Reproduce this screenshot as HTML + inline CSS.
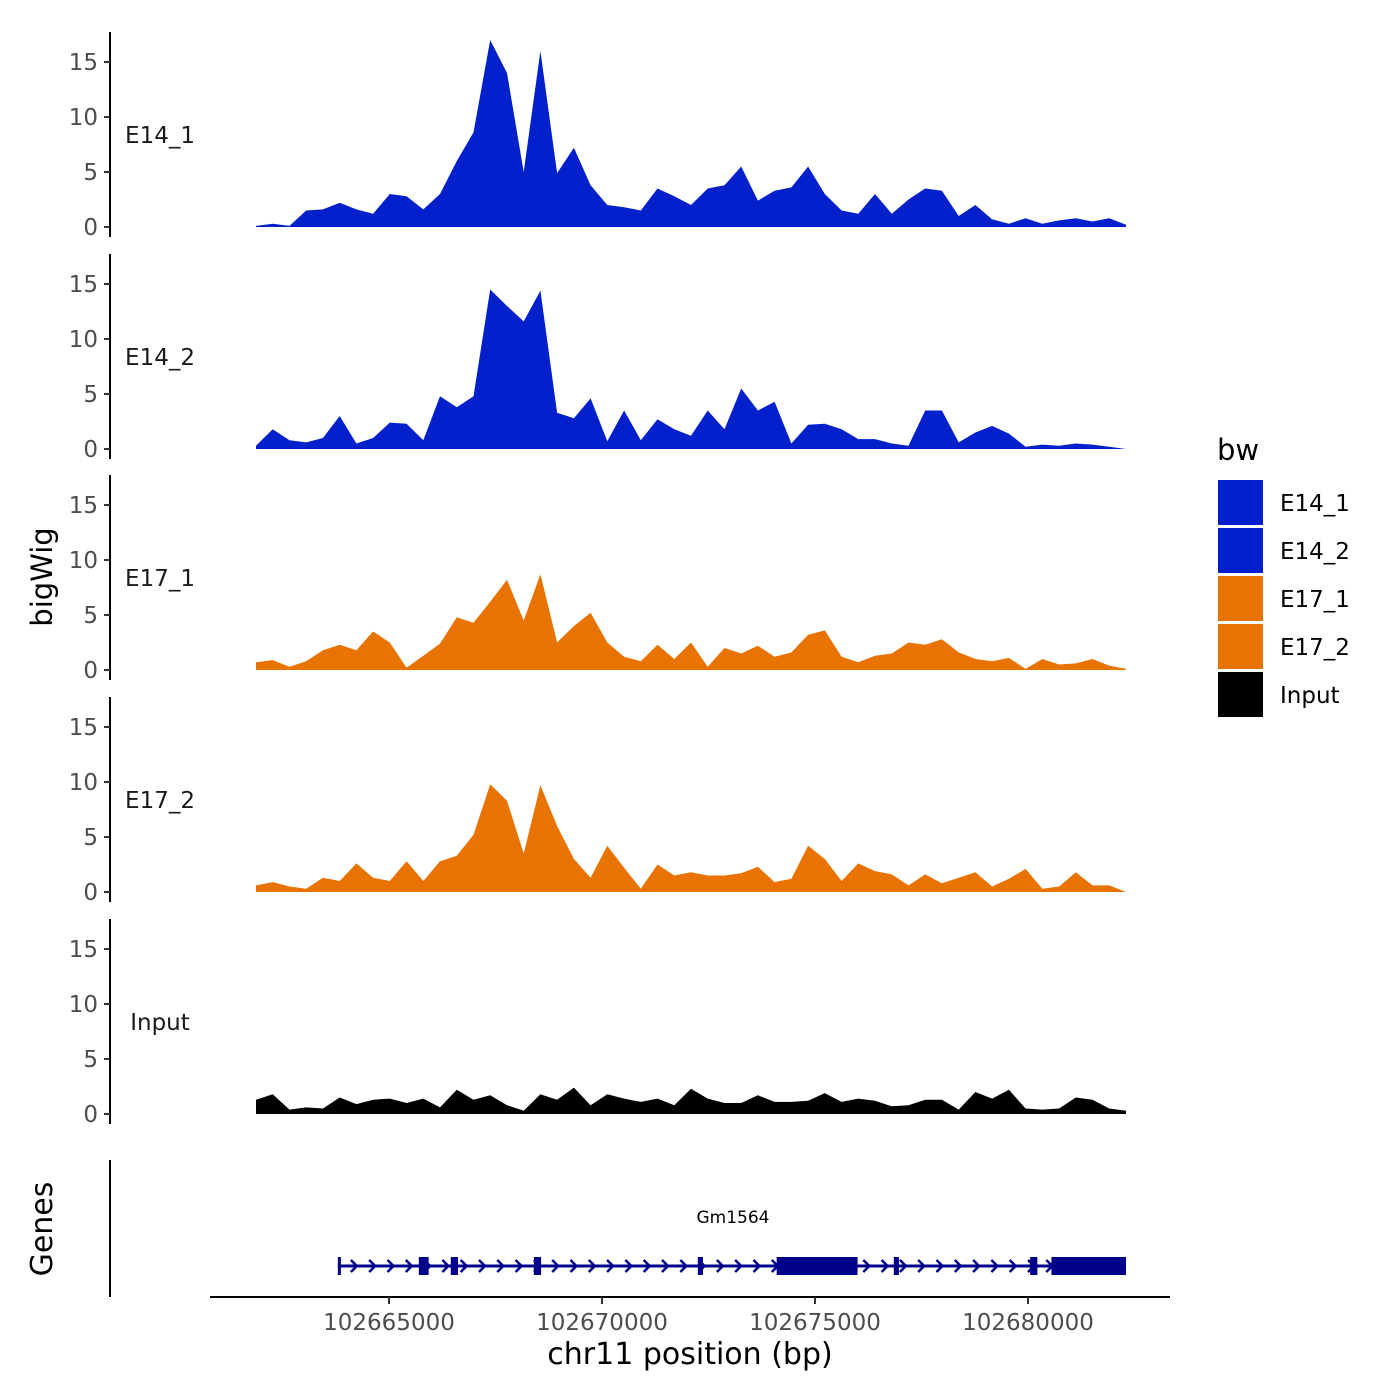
<!DOCTYPE html>
<html><head><meta charset="utf-8"><style>
html,body{margin:0;padding:0;background:#fff;}
svg{display:block;font-family:"DejaVu Sans","Liberation Sans",sans-serif;}
</style></head><body>
<svg id="chart" width="1400" height="1400" viewBox="0 0 1400 1400">
<text x="52" y="577" transform="rotate(-90 52 577)" text-anchor="middle" font-size="29" fill="#000">bigWig</text>
<text x="52" y="1229" transform="rotate(-90 52 1229)" text-anchor="middle" font-size="30" fill="#000">Genes</text>
<text x="690" y="1364" text-anchor="middle" font-size="30" fill="#000">chr11 position (bp)</text>
<line x1="110" y1="1160" x2="110" y2="1297" stroke="#000" stroke-width="2"/>
<line x1="210" y1="1297" x2="1170" y2="1297" stroke="#000" stroke-width="2"/>
<g id="xaxis"></g>
<g id="tracks"></g>
<g id="genes"></g>
<g id="legend">
<text x="1217" y="460" font-size="29" fill="#000">bw</text>
</g>
</svg>
<script>
const trackNames = ["E14_1","E14_2","E17_1","E17_2","Input"];
const trackColors = ["#0020cc","#0020cc","#e87300","#e87300","#000000"];
const bpStart = 102661878, bpEnd = 102682300;
const xTicks = [102665000,102670000,102675000,102680000];
const yTicks = [0,5,10,15];
const e14_1 = [0.1,0.3,0.1,1.5,1.6,2.2,1.6,1.2,3.0,2.8,1.6,3.0,6.0,8.6,17,14,5,16,4.9,7.2,3.8,2,1.8,1.5,3.5,2.8,2,3.5,3.8,5.5,2.4,3.3,3.6,5.5,3,1.5,1.2,3,1.2,2.5,3.5,3.3,1,2,0.7,0.3,0.8,0.3,0.6,0.8,0.5,0.8,0.2];
const e14_2 = [0.3,1.8,0.8,0.6,1.0,3.0,0.5,1,2.4,2.3,0.8,4.8,3.8,4.8,14.5,13,11.6,14.4,3.3,2.8,4.6,0.7,3.5,0.8,2.7,1.8,1.2,3.5,1.8,5.5,3.5,4.3,0.5,2.2,2.3,1.8,0.9,0.9,0.5,0.3,3.5,3.5,0.6,1.5,2.1,1.4,0.2,0.4,0.3,0.5,0.4,0.2,0];
const e17_1 = [0.7,0.9,0.3,0.8,1.8,2.3,1.8,3.5,2.5,0.2,1.3,2.4,4.8,4.3,6.2,8.2,4.5,8.7,2.5,4.0,5.2,2.5,1.2,0.8,2.3,1,2.5,0.3,2,1.5,2.2,1.2,1.6,3.2,3.6,1.2,0.7,1.3,1.5,2.5,2.3,2.8,1.6,1.0,0.8,1.1,0.1,1.0,0.5,0.6,1.0,0.4,0.1];
const e17_2 = [0.6,0.9,0.5,0.3,1.3,1.0,2.6,1.3,1.0,2.8,1,2.8,3.3,5.2,9.8,8.3,3.5,9.7,6,3,1.3,4.2,2.2,0.3,2.5,1.5,1.8,1.5,1.5,1.7,2.3,0.9,1.2,4.2,3,1,2.6,1.9,1.6,0.6,1.6,0.8,1.3,1.8,0.5,1.2,2.1,0.3,0.5,1.8,0.6,0.6,0];
const input = [1.3,1.8,0.4,0.6,0.5,1.5,0.9,1.3,1.4,1.0,1.4,0.6,2.2,1.3,1.7,0.8,0.3,1.8,1.3,2.4,0.8,1.8,1.4,1.1,1.4,0.8,2.3,1.4,1.0,1.0,1.7,1.1,1.1,1.2,1.9,1.1,1.4,1.2,0.7,0.8,1.3,1.3,0.4,2.0,1.4,2.2,0.5,0.4,0.5,1.5,1.3,0.5,0.3];
const seriesValues = [e14_1,e14_2,e17_1,e17_2,input];
const geneName = "Gm1564";
const geneStart = 102663800, geneEnd = 102682300;
const exonStarts = [102663800,102665700,102666450,102668400,102672250,102674100,102676850,102680050,102680550];
const exonEnds   = [102663830,102665930,102666620,102668570,102672370,102676000,102676970,102680220,102682300];

const NS = "http://www.w3.org/2000/svg";
function mk(tag, attrs, parent){ const e=document.createElementNS(NS,tag); for(const k in attrs) e.setAttribute(k,attrs[k]); parent.appendChild(e); return e; }
const xScale = bp => 389 + (bp - 102665000) * (639/15000);
const panelBase = [227,449,670,892,1114];
const yUnit = 11;

const xg = document.getElementById('xaxis');
xTicks.forEach(t=>{
  const l=mk('line',{x1:xScale(t),x2:xScale(t),y1:1297,y2:1304,stroke:'#333','stroke-width':2},xg);
  
  
  const tx=mk('text',{x:xScale(t),y:1330,'text-anchor':'middle','font-size':23,fill:'#4d4d4d'},xg);
  tx.textContent=t;
  
  
});

const tg=document.getElementById('tracks');
seriesValues.forEach((vals,s)=>{
  const base=panelBase[s];
  const g=mk('g',{},tg);
  
  
  const ax=mk('line',{x1:110,x2:110,y1:base-195,y2:base+10,stroke:'#000','stroke-width':2},g);
  
  
  yTicks.forEach(t=>{
    const y=base-t*yUnit;
    const tl=mk('line',{x1:104,x2:110,y1:y,y2:y,stroke:'#333','stroke-width':2},g);
    
    
    const tt=mk('text',{x:98,y:y+8,'text-anchor':'end','font-size':23,fill:'#4d4d4d'},g);
    tt.textContent=t;
    
    
  });
  const lab=mk('text',{x:160,y:base-84,'text-anchor':'middle','font-size':23,fill:'#1a1a1a'},g);
  lab.textContent=trackNames[s];
  
  
  const n=vals.length;
  let d='M'+xScale(bpStart)+','+base;
  vals.forEach((v,i)=>{
    const bp=bpStart+(bpEnd-bpStart)*i/(n-1);
    d+=' L'+xScale(bp).toFixed(1)+','+(base-v*yUnit).toFixed(1);
  });
  d+=' L'+xScale(bpEnd)+','+base+' Z';
  const p=mk('path',{d:d,fill:trackColors[s]},g);
  
  
});

const gg=document.getElementById('genes');
const gy=1266;
const gl=mk('line',{x1:xScale(geneStart),x2:xScale(geneEnd),y1:gy,y2:gy,stroke:'#00008b','stroke-width':3},gg);


for(let x=xScale(geneStart)+17;x<xScale(geneEnd)-5;x+=18.3){
  const c=mk('path',{d:`M${x-4},${gy-6} L${x+2},${gy} L${x-4},${gy+6}`,stroke:'#00008b','stroke-width':2.5,fill:'none'},gg);
  
  
}
exonStarts.forEach((s,i)=>{
  const x1=xScale(s),x2=xScale(exonEnds[i]);
  const r=mk('rect',{x:x1,y:gy-9,width:Math.max(3,x2-x1),height:18,fill:'#00008b'},gg);
  
  
});
const gt=mk('text',{x:733,y:1223,'text-anchor':'middle','font-size':17,fill:'#000'},gg);
gt.textContent=geneName;



const lg=document.getElementById('legend');
trackNames.forEach((nm,i)=>{
  const y=480+i*48;
  const r=mk('rect',{x:1218,y:y,width:45,height:45,fill:trackColors[i]},lg);
  
  
  const t=mk('text',{x:1280,y:y+31,'font-size':23,fill:'#000'},lg);
  t.textContent=nm;
  
  
});
</script>
</body></html>
